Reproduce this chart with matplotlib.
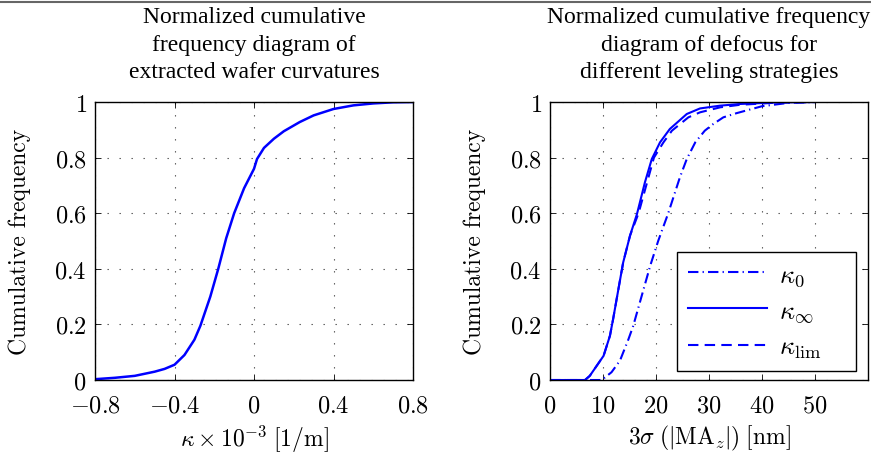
import numpy as np
import matplotlib
matplotlib.use('Agg')
import matplotlib.pyplot as plt
from matplotlib.ticker import FuncFormatter
from matplotlib.lines import Line2D

plt.rcParams['mathtext.fontset'] = 'cm'
plt.rcParams['font.family'] = 'serif'
plt.rcParams['font.serif'] = ['cmr10', 'DejaVu Serif']
plt.rcParams['axes.formatter.use_mathtext'] = True

# left panel: extracted wafer curvatures
kappa = [-0.8, -0.7, -0.6, -0.5, -0.45, -0.4, -0.35, -0.3, -0.27, -0.22, -0.18, -0.14,
         -0.1, -0.05, 0.0, 0.015, 0.05, 0.1, 0.15, 0.23, 0.3, 0.4, 0.5, 0.6, 0.7, 0.8]
kappa_cf = [0.003, 0.008, 0.015, 0.03, 0.04, 0.055, 0.09, 0.145, 0.195, 0.3, 0.40, 0.51,
            0.60, 0.69, 0.76, 0.795, 0.835, 0.868, 0.895, 0.928, 0.952, 0.975, 0.988, 0.995, 0.999, 1.0]

# right panel: defocus for leveling strategies
k0_x = [0, 9.75, 11.6, 13.2, 14.8, 15.7, 17.3, 18.9, 20.4, 22.3, 24.5, 25.8, 27.4, 29.2, 30.8, 32.7, 35.2, 40, 45, 50]
k0_y = [0, 0, 0.028, 0.07, 0.147, 0.195, 0.303, 0.411, 0.5, 0.6, 0.729, 0.795, 0.855, 0.897, 0.921, 0.945, 0.96,
        0.985, 0.997, 1.0]

kinf_x = [0, 6.6, 7.5, 10.1, 11.3, 11.9, 12.9, 13.8, 15.1, 16.4, 17.9, 19.2, 20.75, 22.6, 25.8, 28.3, 32.1, 35.8, 42, 50]
kinf_y = [0, 0, 0.015, 0.087, 0.159, 0.219, 0.327, 0.423, 0.52, 0.597, 0.711, 0.795, 0.855, 0.903, 0.957, 0.977,
          0.987, 0.993, 0.998, 1.0]

klim_x = [0, 6.6, 7.5, 10.1, 11.3, 11.9, 12.9, 13.8, 15.1, 16.7, 19.6, 21.4, 23.0, 26.1, 28.3, 32.1, 35.8, 42, 50]
klim_y = [0, 0, 0.015, 0.087, 0.159, 0.219, 0.327, 0.423, 0.52, 0.6, 0.8, 0.855, 0.897, 0.945, 0.963, 0.981,
          0.99, 0.997, 1.0]

fig = plt.figure(figsize=(8.71, 4.6), dpi=100)
ax1 = fig.add_axes([0.1091, 0.1717, 0.3651, 0.6043])
ax2 = fig.add_axes([0.6315, 0.1717, 0.3651, 0.6043])

fmt = FuncFormatter(lambda v, p: r'$%g$' % round(v, 3))
title_font = dict(family='Liberation Serif', fontsize=17, linespacing=1.4)
fs = 17

def style(ax):
    ax.grid(True, color='0.3', linestyle=(0, (1.2, 9.6)), linewidth=0.8)
    ax.tick_params(direction='in', top=True, right=True, labelsize=17.5, length=4, width=0.6)
    ax.tick_params(axis='x', pad=10)
    ax.tick_params(axis='y', pad=6)
    ax.xaxis.set_major_formatter(fmt)
    ax.yaxis.set_major_formatter(fmt)
    for s in ax.spines.values():
        s.set_linewidth(1.0)
    ax.set_ylim(0, 1)
    ax.set_yticks([0, 0.2, 0.4, 0.6, 0.8, 1])
    ax.set_ylabel('Cumulative frequency', fontsize=fs, labelpad=17)

ax1.plot(kappa, kappa_cf, color='#0000ff', lw=1.8)
ax1.set_xlim(-0.8, 0.8)
ax1.set_xticks([-0.8, -0.4, 0, 0.4, 0.8])
style(ax1)
ax1.set_xlabel(r'$\kappa \times 10^{-3}\;[1/\mathrm{m}]$', fontsize=fs, labelpad=5)
ax1.set_title('Normalized cumulative\nfrequency diagram of\nextracted wafer curvatures', pad=18, **title_font)

ax2.plot(k0_x, k0_y, color='#0000ff', lw=1.5, linestyle=(0, (5, 2, 0.6, 2)), label=r'$\kappa_0$')
ax2.plot(kinf_x, kinf_y, color='#0000ff', lw=1.5, label=r'$\kappa_\infty$')
ax2.plot(klim_x, klim_y, color='#0000ff', lw=1.5, linestyle=(0, (5, 3)), label=r'$\kappa_{\mathrm{lim}}$')
ax2.set_xlim(0, 60)
ax2.set_xticks([0, 10, 20, 30, 40, 50])
style(ax2)
ax2.set_xlabel(r'$3\sigma\;(|\mathrm{MA}_z|)\;[\mathrm{nm}]$', fontsize=fs, labelpad=5)
ax2.set_title('Normalized cumulative frequency\ndiagram of defocus for\ndifferent leveling strategies', pad=18, **title_font)
leg = ax2.legend(loc='lower left', bbox_to_anchor=(0.40, 0.033, 0.562, 0.44), mode='expand',
                 borderaxespad=0, fontsize=19, handlelength=3.0, fancybox=False, edgecolor='k',
                 framealpha=1, labelspacing=0.42, borderpad=0.4, handletextpad=0.45)
leg.get_frame().set_linewidth(1.0)

fig.add_artist(Line2D([0, 1], [1 - 3 / 460, 1 - 3 / 460], color='#666666', lw=1.5, transform=fig.transFigure))

fig.savefig('out.png', dpi=100)
